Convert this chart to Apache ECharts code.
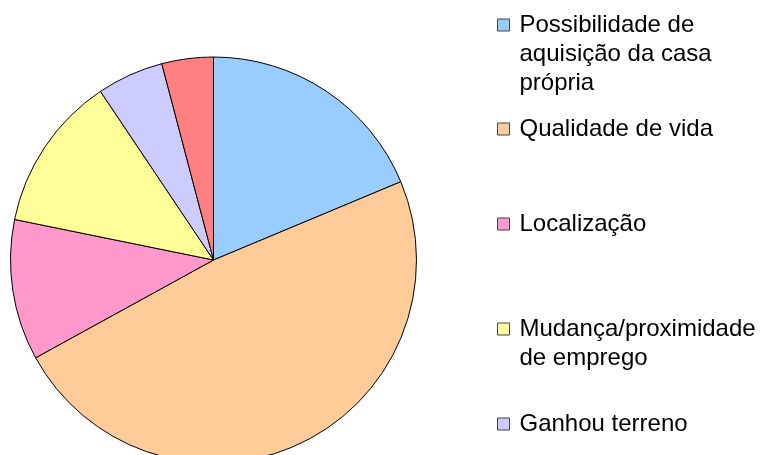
<!DOCTYPE html>
<html>
<head>
<meta charset="utf-8">
<script src="https://cdn.jsdelivr.net/npm/echarts@6/dist/echarts.min.js"></script>
<style>
  html, body { margin: 0; padding: 0; background: #fff; }
  #chart { width: 764px; height: 455px; }
</style>
</head>
<body>
<div id="chart"></div>
<script>
// motivos (percentuais)
const categories = [
  'Possibilidade de aquisição da casa própria',
  'Qualidade de vida',
  'Localização',
  'Mudança/proximidade de emprego',
  'Ganhou terreno',
  'Outros'
];
const values = [18.7, 48.3, 11.2, 12.4, 5.3, 4.1];
const colors = ['#99CCFF', '#FFCC99', '#FF99CC', '#FFFF99', '#CCCCFF', '#FF8080'];

// texto da legenda quebrado como no original
const legendLabels = [
  'Possibilidade de\naquisição da casa\nprópria',
  'Qualidade de vida',
  'Localização',
  'Mudança/proximidade\nde emprego',
  'Ganhou terreno'
];
const legendCenters = [25, 129, 224, 329, 424];

const LINE = 29;
const FONT = 'Liberation Sans, Arial, sans-serif';

const myChart = echarts.init(document.getElementById('chart'));

// o texto fica centrado no icone: linhas vazias antes dele
// deixam a primeira linha alinhada com o marcador
const legends = legendLabels.map((label, i) => {
  const lines = label.split('\n').length;
  const text = '\n'.repeat(lines - 1) + label;
  return {
    left: 497,
    top: legendCenters[i] - LINE / 2 - (lines - 1) * LINE,
    padding: 0,
    orient: 'vertical',
    icon: 'rect',
    itemWidth: 12,
    itemHeight: 12,
    selectedMode: false,
    data: [categories[i]],
    formatter: () => text,
    itemStyle: { borderColor: '#444', borderWidth: 1 },
    textStyle: {
      color: '#000',
      fontFamily: FONT,
      fontSize: 24,
      lineHeight: LINE,
      padding: [0, 0, 0, 5]
    }
  };
});

myChart.setOption({
  backgroundColor: '#fff',
  animation: false,
  color: colors,
  legend: legends,
  series: [
    {
      type: 'pie',
      center: [213.5, 260],
      radius: 203,
      startAngle: 90,
      clockwise: true,
      label: { show: false },
      labelLine: { show: false },
      emphasis: { disabled: true },
      itemStyle: { borderColor: '#000', borderWidth: 1 },
      data: categories.map((name, i) => ({ name, value: values[i] }))
    }
  ]
});
</script>
</body>
</html>
